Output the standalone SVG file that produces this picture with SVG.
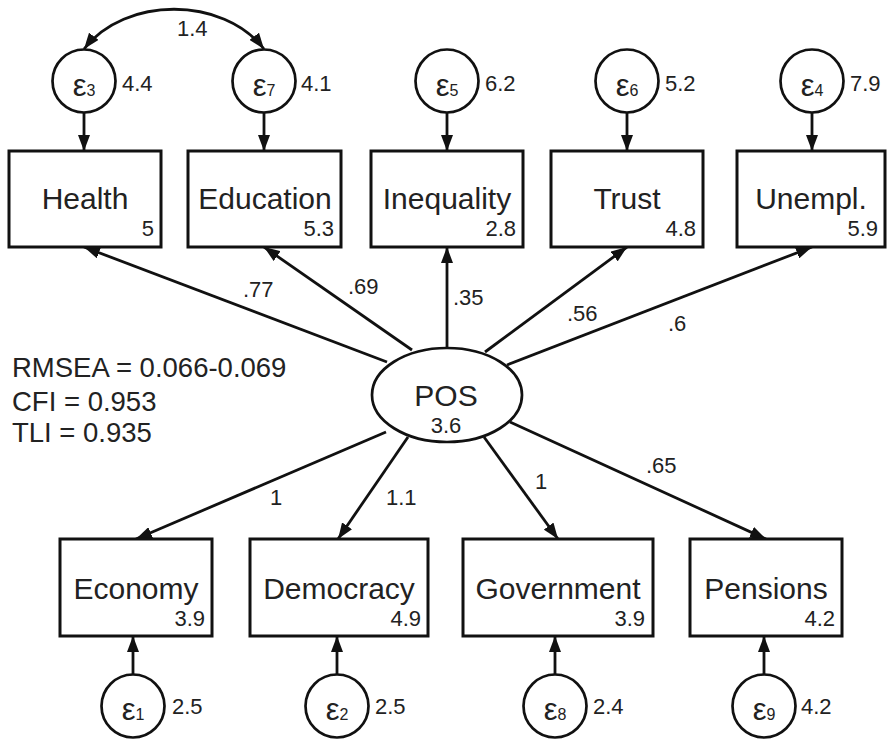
<svg xmlns="http://www.w3.org/2000/svg" width="887" height="740" viewBox="0 0 887 740">
<style>
text{font-family:"Liberation Sans",Arial,sans-serif;fill:#222}
.lbl{font-size:30px;text-anchor:middle}
.num{font-size:22px;text-anchor:end}
.pl{font-size:22px}
.var{font-size:22px}
.eps{font-size:31px;text-anchor:middle}
.sub{font-size:16px}
.box{fill:#fff;stroke:#111;stroke-width:3}
.circ{fill:#fff;stroke:#111;stroke-width:2.7}
.ln{fill:none;stroke:#111;stroke-width:2.8;marker-end:url(#ah)}
.stat{font-size:27.5px}
</style>
<defs>
<marker id="ah" markerUnits="userSpaceOnUse" markerWidth="16" markerHeight="12" refX="16" refY="6" orient="auto-start-reverse">
<path d="M0,0 L16,6 L0,12 z" fill="#111"/>
</marker>
</defs>
<g id="connectors">
<path class="ln" style="marker-start:url(#ah)" d="M84,49 C125,-4 223,-4 264,49"/>
<line class="ln" x1="84" y1="113" x2="84" y2="151"/>
<line class="ln" x1="264" y1="113" x2="264" y2="151"/>
<line class="ln" x1="447" y1="113" x2="447" y2="151"/>
<line class="ln" x1="627" y1="113" x2="627" y2="151"/>
<line class="ln" x1="812" y1="113" x2="812" y2="151"/>
<line class="ln" x1="133" y1="674" x2="133" y2="636"/>
<line class="ln" x1="337" y1="674" x2="337" y2="636"/>
<line class="ln" x1="555" y1="674" x2="555" y2="636"/>
<line class="ln" x1="764" y1="674" x2="764" y2="636"/>
<line class="ln" x1="387" y1="362" x2="84" y2="247"/>
<line class="ln" x1="412" y1="350" x2="264" y2="247"/>
<line class="ln" x1="447" y1="348" x2="447" y2="247"/>
<line class="ln" x1="485" y1="352" x2="627" y2="247"/>
<line class="ln" x1="507" y1="365" x2="812" y2="247"/>
<line class="ln" x1="386" y1="432" x2="136" y2="539"/>
<line class="ln" x1="408" y1="437" x2="338" y2="539"/>
<line class="ln" x1="484" y1="437" x2="558" y2="539"/>
<line class="ln" x1="510" y1="422" x2="766" y2="539"/>
<text class="pl" x="177" y="36">1.4</text>
<text class="pl" x="243" y="297">.77</text>
<text class="pl" x="348" y="294">.69</text>
<text class="pl" x="453" y="305">.35</text>
<text class="pl" x="567" y="321">.56</text>
<text class="pl" x="668" y="331">.6</text>
<text class="pl" x="270" y="505">1</text>
<text class="pl" x="386" y="505">1.1</text>
<text class="pl" x="535" y="489">1</text>
<text class="pl" x="646" y="473">.65</text>
</g>
<g id="stats">
<text class="stat" x="12" y="377">RMSEA = 0.066-0.069</text>
<text class="stat" x="12" y="411">CFI = 0.953</text>
<text class="stat" x="12" y="442">TLI = 0.935</text>
</g>
<g id="e3"><circle class="circ" cx="84" cy="81" r="31.5"/><text class="eps" x="84" y="96">ε<tspan class="sub">3</tspan></text><text class="var" x="122" y="91">4.4</text></g>
<g id="e7"><circle class="circ" cx="264" cy="81" r="31.5"/><text class="eps" x="264" y="96">ε<tspan class="sub">7</tspan></text><text class="var" x="301" y="91">4.1</text></g>
<g id="e5"><circle class="circ" cx="447" cy="81" r="31.5"/><text class="eps" x="447" y="96">ε<tspan class="sub">5</tspan></text><text class="var" x="485" y="91">6.2</text></g>
<g id="e6"><circle class="circ" cx="627" cy="81" r="31.5"/><text class="eps" x="627" y="96">ε<tspan class="sub">6</tspan></text><text class="var" x="665" y="91">5.2</text></g>
<g id="e4"><circle class="circ" cx="812" cy="81" r="31.5"/><text class="eps" x="812" y="96">ε<tspan class="sub">4</tspan></text><text class="var" x="850" y="91">7.9</text></g>
<g id="health"><rect class="box" x="9" y="151" width="152" height="96"/><text class="lbl" x="85" y="209">Health</text><text class="num" x="154" y="236">5</text></g>
<g id="education"><rect class="box" x="188" y="151" width="153" height="96"/><text class="lbl" x="265" y="209">Education</text><text class="num" x="334" y="236">5.3</text></g>
<g id="inequality"><rect class="box" x="371" y="151" width="152" height="96"/><text class="lbl" x="447" y="209">Inequality</text><text class="num" x="516" y="236">2.8</text></g>
<g id="trust"><rect class="box" x="551" y="151" width="152" height="96"/><text class="lbl" x="627" y="209">Trust</text><text class="num" x="696" y="236">4.8</text></g>
<g id="unempl"><rect class="box" x="737" y="151" width="148" height="96"/><text class="lbl" x="811" y="209">Unempl.</text><text class="num" x="878" y="236">5.9</text></g>
<g id="pos"><ellipse class="circ" cx="447" cy="395" rx="75" ry="47"/><text class="lbl" x="446" y="406">POS</text><text class="var" x="446" y="433" text-anchor="middle">3.6</text></g>
<g id="economy"><rect class="box" x="60" y="539" width="152" height="97"/><text class="lbl" x="136" y="599">Economy</text><text class="num" x="205" y="626">3.9</text></g>
<g id="democracy"><rect class="box" x="250" y="539" width="178" height="97"/><text class="lbl" x="339" y="599">Democracy</text><text class="num" x="421" y="626">4.9</text></g>
<g id="government"><rect class="box" x="463" y="539" width="190" height="97"/><text class="lbl" x="558" y="599">Government</text><text class="num" x="645" y="626">3.9</text></g>
<g id="pensions"><rect class="box" x="690" y="539" width="152" height="97"/><text class="lbl" x="766" y="599">Pensions</text><text class="num" x="835" y="626">4.2</text></g>
<g id="e1"><circle class="circ" cx="133" cy="706" r="31.5"/><text class="eps" x="133" y="720">ε<tspan class="sub">1</tspan></text><text class="var" x="172" y="714">2.5</text></g>
<g id="e2"><circle class="circ" cx="337" cy="706" r="31.5"/><text class="eps" x="337" y="720">ε<tspan class="sub">2</tspan></text><text class="var" x="375" y="714">2.5</text></g>
<g id="e8"><circle class="circ" cx="555" cy="706" r="31.5"/><text class="eps" x="555" y="720">ε<tspan class="sub">8</tspan></text><text class="var" x="593" y="714">2.4</text></g>
<g id="e9"><circle class="circ" cx="764" cy="706" r="31.5"/><text class="eps" x="764" y="720">ε<tspan class="sub">9</tspan></text><text class="var" x="801" y="714">4.2</text></g>
</svg>
